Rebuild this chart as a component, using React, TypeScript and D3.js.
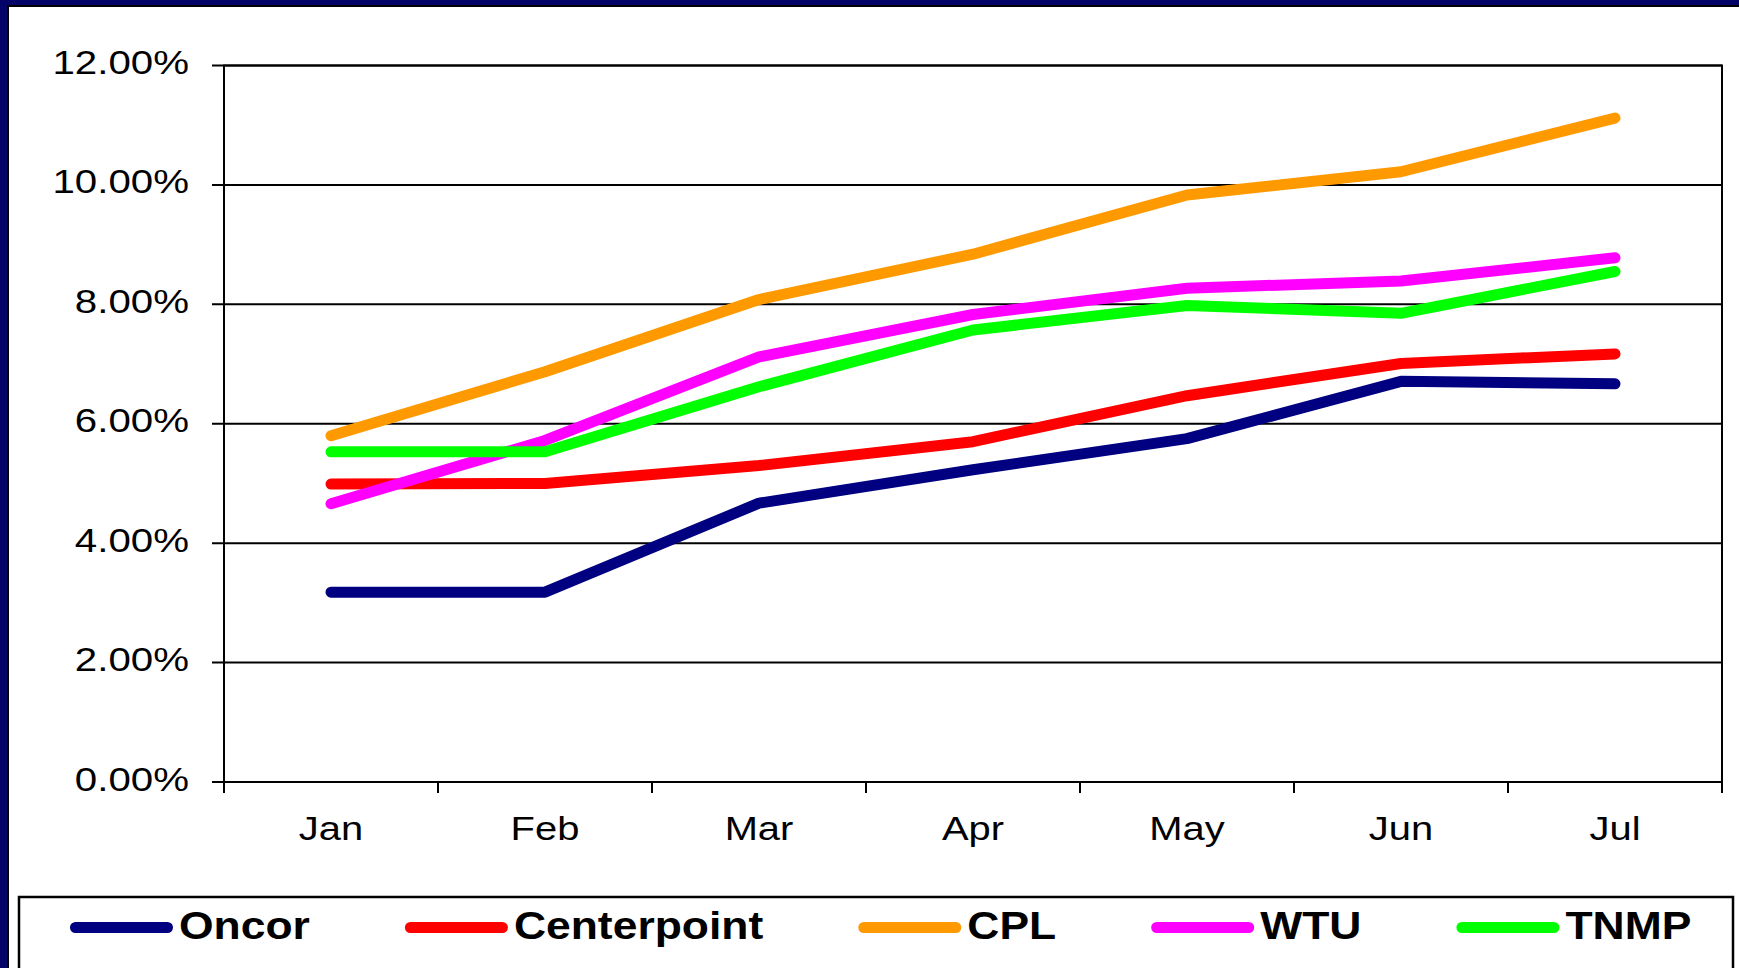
import React, { useEffect, useRef } from 'react';
import * as d3 from 'd3';

// data (percent)
const months = ['Jan', 'Feb', 'Mar', 'Apr', 'May', 'Jun', 'Jul'];
const oncor = [3.18, 3.18, 4.67, 5.23, 5.75, 6.71, 6.67];
const centerpoint = [4.99, 5.0, 5.3, 5.7, 6.47, 7.01, 7.17];
const cpl = [5.8, 6.87, 8.08, 8.84, 9.83, 10.22, 11.12];
const wtu = [4.66, 5.72, 7.12, 7.83, 8.27, 8.39, 8.78];
const tnmp = [5.53, 5.53, 6.62, 7.57, 7.98, 7.85, 8.55];
const seriesNames = ['Oncor', 'Centerpoint', 'CPL', 'WTU', 'TNMP'];
const seriesColors = ['#000080', '#ff0000', '#ff9900', '#ff00ff', '#00ff00'];
const yTicks = [0, 2, 4, 6, 8, 10, 12];

const W = 1739;
const H = 968;
const FONT = '"Liberation Sans", Arial, sans-serif';

const App = () => {
    const svgRef = useRef<SVGSVGElement>(null);

    useEffect(() => {
        const svg = d3.select(svgRef.current);
        svg.selectAll('*').remove();

        // slide background + white panel
        svg.append('rect').attr('width', W).attr('height', H).attr('fill', '#03036a');
        svg.append('rect')
            .attr('x', 8).attr('y', 6)
            .attr('width', W).attr('height', H)
            .attr('fill', '#fff')
            .attr('stroke', '#000').attr('stroke-width', 2);

        const left = 224, right = 1722, top = 65.5, bottom = 782;

        const x = d3.scaleBand<string>().domain(months).range([left, right]).padding(0);
        const y = d3.scaleLinear().domain([0, 12]).range([bottom, top]);

        // gridlines
        svg.append('g')
            .selectAll('line')
            .data(yTicks)
            .join('line')
            .attr('x1', left - 12).attr('x2', right)
            .attr('y1', d => y(d)).attr('y2', d => y(d))
            .attr('stroke', '#000').attr('stroke-width', 2);

        // plot border
        svg.append('rect')
            .attr('x', left).attr('y', top)
            .attr('width', right - left).attr('height', bottom - top)
            .attr('fill', 'none').attr('stroke', '#000').attr('stroke-width', 2);

        // x ticks at band boundaries
        const bounds = months.map(m => x(m) as number).concat([right]);
        svg.append('g')
            .selectAll('line')
            .data(bounds)
            .join('line')
            .attr('x1', d => d).attr('x2', d => d)
            .attr('y1', bottom).attr('y2', bottom + 11)
            .attr('stroke', '#000').attr('stroke-width', 2);

        // y labels
        const fmt = d3.format('.2f');
        svg.append('g')
            .selectAll('text')
            .data(yTicks)
            .join('text')
            .attr('transform', d => `translate(189,${y(d) + 8.5}) scale(1.22,1)`)
            .attr('text-anchor', 'end')
            .attr('font-family', FONT)
            .attr('font-size', 33)
            .attr('fill', '#000')
            .text(d => `${fmt(d)}%`);

        // x labels
        svg.append('g')
            .selectAll('text')
            .data(months)
            .join('text')
            .attr('transform', d => `translate(${(x(d) as number) + x.bandwidth() / 2},840) scale(1.21,1)`)
            .attr('text-anchor', 'middle')
            .attr('font-family', FONT)
            .attr('font-size', 33)
            .attr('fill', '#000')
            .text(d => d);

        // lines
        const series = [oncor, centerpoint, cpl, wtu, tnmp];
        const line = d3.line<number>()
            .x((_, i) => (x(months[i]) as number) + x.bandwidth() / 2)
            .y(d => y(d));

        svg.append('g')
            .selectAll('path')
            .data(series)
            .join('path')
            .attr('d', d => line(d))
            .attr('fill', 'none')
            .attr('stroke', (_, i) => seriesColors[i])
            .attr('stroke-width', 11)
            .attr('stroke-linecap', 'round')
            .attr('stroke-linejoin', 'round');

        // legend
        svg.append('rect')
            .attr('x', 19).attr('y', 897)
            .attr('width', 1714).attr('height', 120)
            .attr('fill', '#fff').attr('stroke', '#000').attr('stroke-width', 2.5);

        const lg = svg.append('g');
        const sx = 1.17;
        let cx = 70;
        seriesNames.forEach((name, i) => {
            lg.append('line')
                .attr('x1', cx + 5.5).attr('x2', cx + 103 - 5.5)
                .attr('y1', 927.5).attr('y2', 927.5)
                .attr('stroke', seriesColors[i])
                .attr('stroke-width', 11)
                .attr('stroke-linecap', 'round');
            const t = lg.append('text')
                .attr('transform', `translate(${cx + 109},939) scale(${sx},1)`)
                .attr('font-family', FONT)
                .attr('font-weight', 'bold')
                .attr('font-size', 38)
                .attr('fill', '#000')
                .text(name);
            const tw = (t.node() as SVGTextElement).getComputedTextLength() * sx;
            cx += 109 + tw + 95;
        });
    }, []);

    return (
        <div style={{ position: 'absolute', left: 0, top: 0 }}>
            <svg ref={svgRef} width={W} height={H} style={{ display: 'block' }}></svg>
        </div>
    );
};

export default App;
